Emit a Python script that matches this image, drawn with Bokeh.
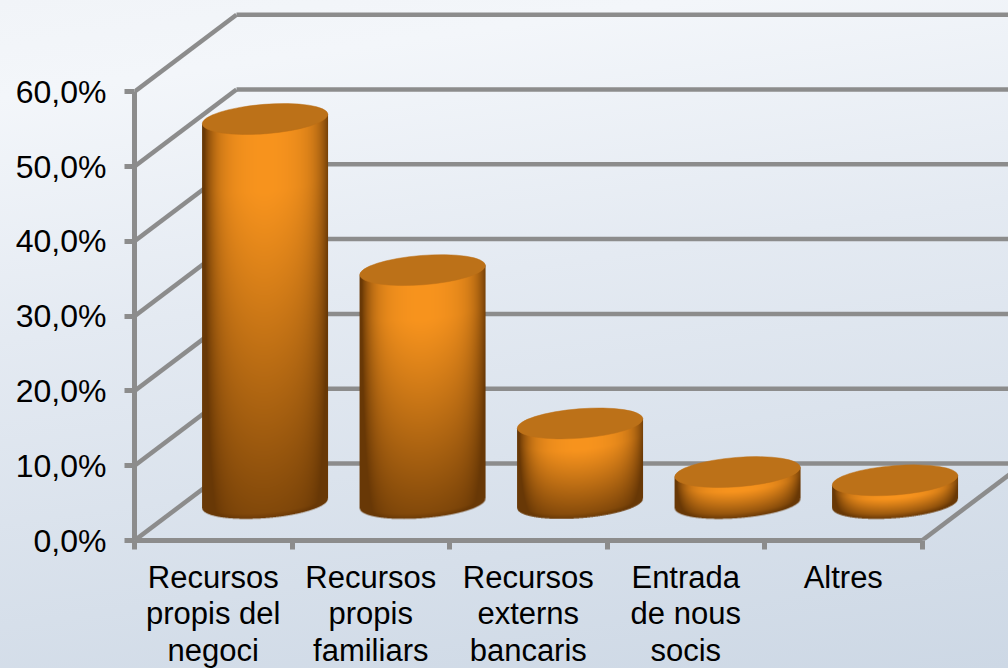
import numpy as np
from bokeh.plotting import figure
from bokeh.models import FixedTicker, LinearAxis, Range1d
from bokeh.embed import file_html
from bokeh.resources import INLINE

categories = ["Recursos\npropis del\nnegoci", "Recursos\npropis\nfamiliars",
              "Recursos\nexterns\nbancaris", "Entrada\nde nous\nsocis", "Altres"]
values = [51.4, 31.2, 10.7, 4.2, 3.1]
y_ticks = [0, 10, 20, 30, 40, 50, 60]
y_labels = ["0,0%", "10,0%", "20,0%", "30,0%", "40,0%", "50,0%", "60,0%"]

# page geometry
LEFT, BOTTOM, W = 134, 540, 1008
SX, SY = 157.5, 7.48          # px per category / per percent
DEPTH_X, DEPTH_Y = 102 / SX, 77 / SY
BASE_Y = 37 / SY              # floor centre of a cylinder
A, B, TILT = 63.0, 14.7, np.radians(4.5)
GREY = "#8c8c8c"
FONT = "Liberation Sans"

p = figure(frame_width=W - LEFT, frame_height=BOTTOM, output_backend="svg", toolbar_location=None,
           x_range=Range1d(0, (W - LEFT) / SX), y_range=Range1d(0, BOTTOM / SY),
           min_border_left=LEFT, min_border_right=0, min_border_top=0, min_border_bottom=120,
           background_fill_color=None, border_fill_color=None, outline_line_color=None,
           x_axis_location=None, y_axis_location=None)
p.styles = {"position": "fixed", "left": "0px", "top": "0px",
            "background": "linear-gradient(172deg, #f1f4f8 0%, #f3f6fa 12%, #e4eaf2 42%, #cdd8e5 100%)",
            "width": "1008px", "height": "668px", "overflow": "hidden"}
p.grid.visible = False

# walls and floor
x_end = (W - LEFT) / SX + 1
p.segment(x0=[DEPTH_X] * len(y_ticks), y0=[t + DEPTH_Y for t in y_ticks],
          x1=[x_end] * len(y_ticks), y1=[t + DEPTH_Y for t in y_ticks], line_color=GREY, line_width=4.5)
p.segment(x0=[0] * len(y_ticks), y0=y_ticks, x1=[DEPTH_X] * len(y_ticks),
          y1=[t + DEPTH_Y for t in y_ticks], line_color=GREY, line_width=4.5)
p.segment(x0=[5], y0=[0], x1=[5 + DEPTH_X], y1=[DEPTH_Y], line_color=GREY, line_width=4.5)

BRIGHT = np.array([248, 148, 30.0])
DARK = np.array([104, 56, 6.0])

def cylinder_image(value):
    """RGBA picture of a cylinder body, one pixel per screen pixel."""
    height = value * SY
    w, h = int(2 * A) + 4, int(height + 2 * B + 2 * A * np.tan(TILT)) + 8
    ss = 3
    xs = (np.arange(w * ss) + .5) / ss - w / 2
    ys = (np.arange(h * ss) + .5) / ss - 2 * A * np.tan(TILT) / 2 - B - 2   # 0 = top centre
    X, Y = np.meshgrid(xs, ys)
    yb = height
    line = -np.tan(TILT) * X
    u = X * np.cos(TILT) - (Y - yb) * np.sin(TILT)
    v = X * np.sin(TILT) + (Y - yb) * np.cos(TILT)
    in_base = (u / A) ** 2 + (v / B) ** 2 <= 1
    inside = (np.abs(X) <= A) & (Y >= line) & ((Y <= yb + line) | in_base)
    # shading
    front = B * np.sqrt(np.clip(1 - (X / A) ** 2, 0, 1))
    s = np.clip((Y - line - front) / np.maximum(height, 1), 0, 1)
    fv = 1 - 0.58 * np.clip((s - 0.15) / 0.85, 0, 1) ** 1.05
    fh = 1 - 0.5 * np.abs(X / A - 0.03) ** 6 - 0.22 * np.abs(X / A) ** 2
    rim = np.clip((yb + line + front - Y) / 5, 0, 1)
    f = fv * fh * (0.78 + 0.22 * rim)
    f = f[..., None]
    rgb = DARK + (BRIGHT - DARK) * np.clip((f - 0.3) / 0.7, 0, 1)
    img = np.zeros((h, w, 4), dtype=float)
    def down(a):
        return a.reshape(h, ss, w, ss, *a.shape[2:]).mean(axis=(1, 3))
    alpha = down(inside.astype(float))
    col = down(rgb * inside[..., None]) / np.maximum(alpha[..., None], 1e-6)
    img[..., :3] = np.clip(col, 0, 255)
    img[..., 3] = alpha * 255
    # bokeh rows run upwards
    out = np.flipud(img).astype(np.uint8)
    rgba = out[..., 0].astype(np.uint32) | out[..., 1].astype(np.uint32) << 8 | \
        out[..., 2].astype(np.uint32) << 16 | out[..., 3].astype(np.uint32) << 24
    top_margin = 2 * A * np.tan(TILT) / 2 + B + 2
    return rgba, w, h, top_margin

for i, val in enumerate(values):
    cx = i + 0.5 + DEPTH_X / 2 + 0.005
    top = BASE_Y + val
    img, w, h, tm = cylinder_image(val)
    p.image_rgba(image=[img], x=[cx - w / 2 / SX], y=[top + tm / SY - h / SY],
                 dw=[w / SX], dh=[h / SY])
    p.ellipse(x=[cx], y=[top], width=[2 * A], height=[2 * B], angle=[TILT],
              width_units="screen", height_units="screen",
              fill_color="#bc7118", line_color="#bc7118", line_width=0.5)

# axes
yax = LinearAxis(ticker=FixedTicker(ticks=y_ticks), bounds=(0, 60),
                 major_label_overrides={t: l for t, l in zip(y_ticks, y_labels)})
yax.axis_line_color = GREY
yax.axis_line_width = 5
yax.major_tick_line_color = GREY
yax.major_tick_line_width = 5
yax.major_tick_in = 0
yax.major_tick_out = 10
yax.minor_tick_line_color = None
yax.major_label_standoff = 18
yax.major_label_text_font = FONT
yax.major_label_text_font_size = "32px"
yax.major_label_text_color = "#000000"
p.add_layout(yax, "left")

centres = [i + 0.5 for i in range(len(categories))]
xax = LinearAxis(ticker=FixedTicker(ticks=centres, minor_ticks=[0, 1, 2, 3, 4, 5]), bounds=(0, 5),
                 major_label_overrides={c: l for c, l in zip(centres, categories)})
xax.axis_line_color = GREY
xax.axis_line_width = 5
xax.major_tick_line_color = None
xax.major_tick_in = 0
xax.major_tick_out = 0
xax.minor_tick_line_color = GREY
xax.minor_tick_line_width = 5
xax.minor_tick_in = 0
xax.minor_tick_out = 9
xax.major_label_standoff = 10
xax.major_label_text_font = FONT
xax.major_label_text_font_size = "31px"
xax.major_label_text_line_height = 1.05
xax.major_label_text_color = "#000000"
xax.major_label_text_align = "center"
p.add_layout(xax, "below")

open("out.html", "w").write(file_html(p, INLINE))
